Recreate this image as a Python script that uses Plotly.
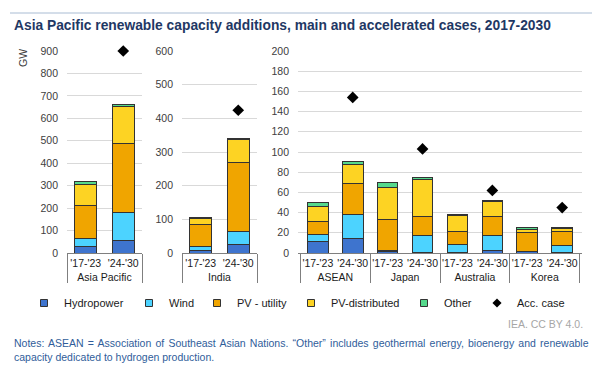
import plotly.graph_objects as go

# ---------------- data ----------------
regions = ["Asia Pacific", "India", "ASEAN", "Japan", "Australia", "Korea"]
periods = ["'17-'23", "'24-'30"]

# values in region x period order (GW)
hydropower     = [27, 56, 6, 26, 11.6, 14.6, 1.5, 0.3, 0.5, 2.3, 1.0, 0.3]
wind           = [37, 125, 13, 39, 7.0, 23.3, 0.8, 17.0, 7.8, 15.3, 0.3, 7.0]
pv_utility     = [148, 308, 67, 204, 12.6, 30.9, 30.6, 18.6, 12.6, 18.6, 19.0, 13.6]
pv_distributed = [92, 163, 17, 68, 14.6, 18.6, 31.9, 37.2, 16.6, 15.0, 3.3, 3.4]
other          = [15, 9, 2, 2, 4.0, 3.3, 4.6, 1.7, 0.4, 0.6, 2.0, 0.6]
acc_case       = [None, 900, None, 424, None, 154, None, 103, None, 62, None, 45]

series_names = ["Hydropower", "Wind", "PV - utility", "PV-distributed", "Other"]
series_values = [hydropower, wind, pv_utility, pv_distributed, other]
series_colors = ["#3E74CE", "#4CD3FF", "#F0A500", "#FDD323", "#55D98C"]

# which panel each region goes to
panel_regions = [["Asia Pacific"], ["India"], ["ASEAN", "Japan", "Australia", "Korea"]]
y_ranges = [[0, 900], [0, 600], [0, 200]]
y_dticks = [100, 100, 20]
x_domains = [[67 / 600, 142 / 600], [182 / 600, 257 / 600], [298 / 600, 582 / 600]]

# legend placement (left x of each one-item legend, px)
legend_x_px = [24, 129, 197, 291, 404, 477]

FONT = "Liberation Sans, Arial"

# ---------------- figure ----------------
fig = go.Figure()

for p, regs in enumerate(panel_regions):
    xa = "x" if p == 0 else f"x{p + 1}"
    ya = "y" if p == 0 else f"y{p + 1}"
    idx = [regions.index(r) * 2 + k for r in regs for k in range(2)]
    xg = [regions[i // 2] for i in idx]
    xp = [periods[i % 2] for i in idx]
    for name, vals, col in zip(series_names, series_values, series_colors):
        fig.add_trace(go.Bar(
            x=[xg, xp], y=[vals[i] for i in idx], name=name,
            marker=dict(color=col, line=dict(color="#333333", width=1)),
            xaxis=xa, yaxis=ya, showlegend=False, legendgroup=name,
        ))
    fig.add_trace(go.Scatter(
        x=[xg, xp], y=[acc_case[i] for i in idx], name="Acc. case", mode="markers",
        marker=dict(symbol="diamond", size=9, color="black"),
        xaxis=xa, yaxis=ya, showlegend=False, legendgroup="acc", cliponaxis=False,
    ))

# legend entries (one small legend per entry so they can be placed like the original)
legend_names = series_names + ["Acc. case"]
legend_symbols = ["square"] * 5 + ["diamond"]
legend_colors = series_colors + ["black"]
for k, (name, sym, col) in enumerate(zip(legend_names, legend_symbols, legend_colors)):
    fig.add_trace(go.Scatter(
        x=[None], y=[None], mode="markers", name=name,
        marker=dict(symbol=sym, size=7, color=col,
                    line=dict(color="#333333", width=1 if sym == "square" else 0)),
        showlegend=True, legend="legend" if k == 0 else f"legend{k + 1}",
        legendgroup=name,
    ))

layout = dict(
    width=600, height=369,
    margin=dict(l=0, r=0, t=0, b=0, autoexpand=False),
    paper_bgcolor="white", plot_bgcolor="white",
    barmode="stack", bargap=0.41,
    font=dict(family=FONT, size=10.5, color="#404040"),
    showlegend=True,
)

for k, lx in enumerate(legend_x_px):
    key = "legend" if k == 0 else f"legend{k + 1}"
    layout[key] = dict(orientation="h", x=lx / 600, y=1 - 303 / 369, xanchor="left", yanchor="middle",
                       font=dict(family=FONT, size=11, color="#1A1A1A"), itemwidth=30,
                       bgcolor="rgba(0,0,0,0)", borderwidth=0,
                       itemclick=False, itemdoubleclick=False)

for p in range(3):
    xk = "xaxis" if p == 0 else f"xaxis{p + 1}"
    yk = "yaxis" if p == 0 else f"yaxis{p + 1}"
    ya = "y" if p == 0 else f"y{p + 1}"
    xa = "x" if p == 0 else f"x{p + 1}"
    layout[xk] = dict(
        domain=x_domains[p], anchor=ya, type="multicategory",
        showline=True, linecolor="#7F7F7F", linewidth=1,
        showdividers=True, dividercolor="#7F7F7F", dividerwidth=1,
        ticks="", tickangle=0, automargin=False,
        tickfont=dict(family=FONT, size=10.5, color="#1A1A1A"),
        showgrid=False, zeroline=False,
    )
    layout[yk] = dict(
        domain=[1 - 253 / 369, 1 - 51 / 369], anchor=xa,
        range=y_ranges[p], dtick=y_dticks[p], tick0=0,
        showgrid=True, gridcolor="#D9D9D9", gridwidth=1,
        zeroline=False, showline=False, ticks="", automargin=False,
        ticklabelstandoff=8,
        tickfont=dict(family=FONT, size=10.5, color="#404040"),
    )

fig.update_layout(**layout)

# title and rule above it
fig.add_shape(type="line", xref="paper", yref="paper", x0=10 / 600, x1=592 / 600,
              y0=1 - 13 / 369, y1=1 - 13 / 369, line=dict(color="#A9BCD3", width=1))
fig.add_annotation(text="<b>Asia Pacific renewable capacity additions, main and accelerated cases, 2017-2030</b>",
                   xref="paper", yref="paper", x=12 / 600, y=1 - 25 / 369, xanchor="left", yanchor="middle",
                   showarrow=False, font=dict(family=FONT, size=13.8, color="#1F3864"))
# GW label
fig.add_annotation(text="GW", textangle=-90, xref="paper", yref="paper", x=23 / 600, y=1 - 58 / 369,
                   xanchor="center", yanchor="middle", showarrow=False,
                   font=dict(family=FONT, size=10.5, color="#404040"))
# source
fig.add_annotation(text="IEA. CC BY 4.0.", xref="paper", yref="paper", x=585 / 600, y=1 - 324 / 369,
                   xanchor="right", yanchor="middle", showarrow=False,
                   font=dict(family=FONT, size=10.5, color="#A6A6A6"))
# notes (first line justified in the original)
fig.add_annotation(text='<span style="word-spacing:1.3px">Notes: ASEAN = Association of Southeast Asian Nations. \u201cOther\u201d includes geothermal energy, bioenergy and renewable</span>',
                   xref="paper", yref="paper", x=12 / 600, y=1 - 343 / 369, xanchor="left", yanchor="middle",
                   align="left", showarrow=False,
                   font=dict(family=FONT, size=10.5, color="#2F5D9A"))
fig.add_annotation(text="capacity dedicated to hydrogen production.",
                   xref="paper", yref="paper", x=12 / 600, y=1 - 357 / 369, xanchor="left", yanchor="middle",
                   align="left", showarrow=False,
                   font=dict(family=FONT, size=10.5, color="#2F5D9A"))

fig.write_html("out.html", config={"displayModeBar": False},
               post_script="document.body.style.margin='0';document.body.style.overflow='hidden';")
